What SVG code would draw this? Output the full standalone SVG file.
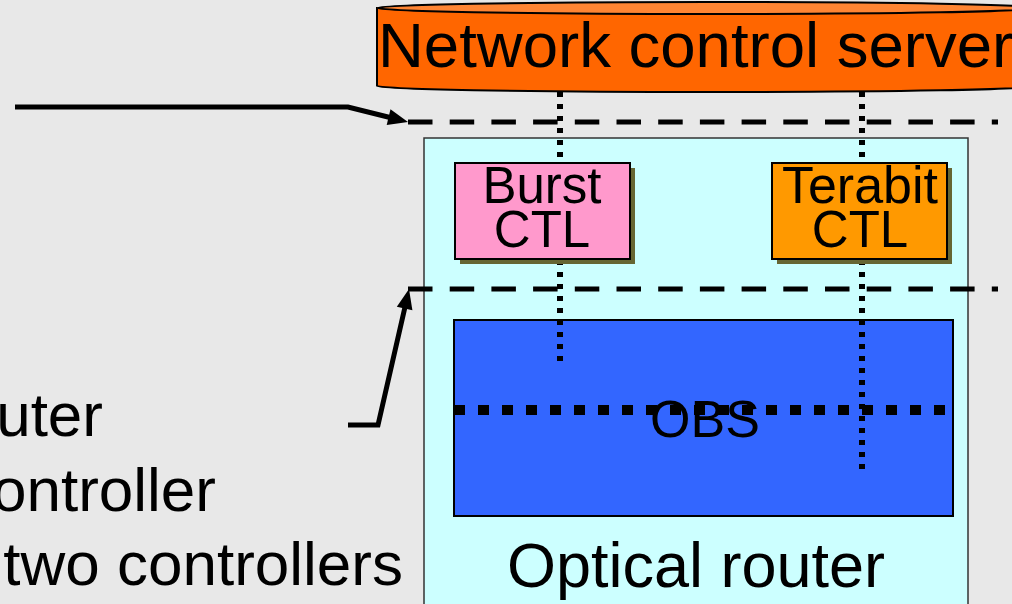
<svg xmlns="http://www.w3.org/2000/svg" width="1012" height="604" viewBox="0 0 1012 604">
<defs>
<style>
.t{font-family:"Liberation Sans",Arial,sans-serif;fill:#000}
.ctl{stroke:#000;stroke-width:2}
.dash{stroke:#000;stroke-width:5;stroke-dasharray:24.5 17.2;fill:none}
.dot{stroke:#000;stroke-width:6;stroke-dasharray:5 7;fill:none}
.arr{stroke:#000;stroke-width:5;fill:none}
.head{fill:#000}
</style>
</defs>
<rect width="1012" height="604" fill="#E8E8E8"/>
<g id="server">
<path d="M377,8 L377,86 A330,6 0 0 0 1037,86 L1037,8 Z" fill="#FF6600" stroke="#000" stroke-width="2"/>
<ellipse cx="707" cy="8" rx="330" ry="6" fill="#FF8533" stroke="#000" stroke-width="2"/>
<text class="t" x="378" y="67" font-size="63.5">Network control server</text>
</g>
<g id="router">
<rect x="424" y="138" width="544" height="480" fill="#CCFFFF" stroke="#333" stroke-width="1.5"/>
<text class="t" x="696" y="587" font-size="63" text-anchor="middle">Optical router</text>
</g>
<g id="obs">
<rect x="454" y="320" width="499" height="196" fill="#3366FF" stroke="#000" stroke-width="2"/>
</g>
<g id="connectors">
<line x1="408" y1="122" x2="998" y2="122" class="dash"/>
<line x1="408" y1="289" x2="998" y2="289" class="dash"/>
<line x1="560" y1="92" x2="560" y2="362" class="dot"/>
<line x1="862" y1="92" x2="862" y2="469" class="dot"/>
<line x1="454" y1="410" x2="950" y2="410" stroke="#000" stroke-width="10" stroke-dasharray="11 13"/>
<path d="M15,107 L348,107 L390,117.5" class="arr"/>
<polygon class="head" points="408,122 386.7,125 390.5,109.3"/>
<path d="M348,425 L378,425 L405,307" class="arr"/>
<polygon class="head" points="409,289 412.4,310.3 396.8,306.7"/>
</g>
<g id="burst">
<rect x="460" y="168" width="175" height="96" fill="#666633"/>
<rect x="455" y="163" width="175" height="96" fill="#FF99CC" class="ctl"/>
<text class="t" x="542" y="203" font-size="51" text-anchor="middle">Burst</text>
<text class="t" x="542" y="247" font-size="51" text-anchor="middle">CTL</text>
</g>
<g id="terabit">
<rect x="777" y="168" width="175" height="96" fill="#666633"/>
<rect x="772" y="163" width="175" height="96" fill="#FF9900" class="ctl"/>
<text class="t" x="860" y="203" font-size="52" text-anchor="middle">Terabit</text>
<text class="t" x="860" y="247" font-size="51" text-anchor="middle">CTL</text>
</g>
<g id="labels">
<text class="t" x="705" y="437" font-size="52" text-anchor="middle">OBS</text>
<text class="t" x="103" y="436" font-size="62" text-anchor="end">uter</text>
<text class="t" x="216" y="511" font-size="62" text-anchor="end">ontroller</text>
<text class="t" x="403" y="585" font-size="62" text-anchor="end">two controllers</text>
</g>
</svg>
